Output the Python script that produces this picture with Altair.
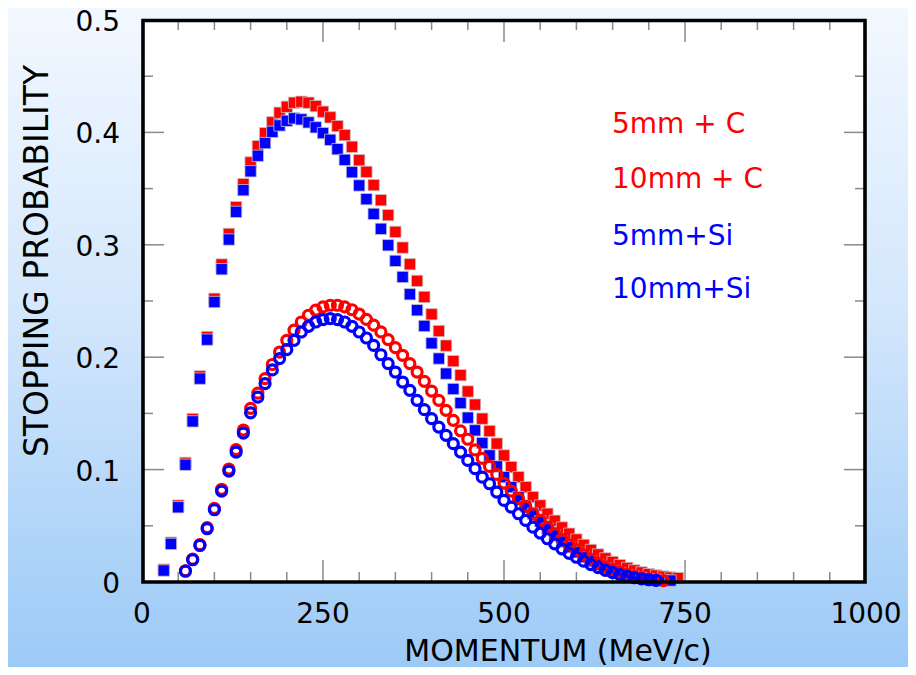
import altair as alt
import pandas as pd

# ---------------- data ----------------
momentum_sq = [30, 40, 50, 60, 70, 80, 90, 100, 110, 120, 130, 140, 150, 160, 170, 180, 190, 200,
               210, 220, 230, 240, 250, 260, 270, 280, 290, 300, 310, 320, 330, 340, 350, 360, 370,
               380, 390, 400, 410, 420, 430, 440, 450, 460, 470, 480, 490, 500, 510, 520, 530, 540,
               550, 560, 570, 580, 590, 600, 610, 620, 630, 640, 650, 660, 670, 680, 690, 700, 710,
               720, 730, 740]
# red filled squares
prob_10mm_C = [0.011, 0.035, 0.068, 0.106, 0.145, 0.183, 0.218, 0.252, 0.2825, 0.3097, 0.3335, 0.354,
               0.3733, 0.3878, 0.3993, 0.409, 0.4175, 0.4228, 0.4264, 0.4273, 0.4264, 0.4234, 0.4184,
               0.4134, 0.4056, 0.3976, 0.3872, 0.3753, 0.3649, 0.3531, 0.3397, 0.3264, 0.3115, 0.2975,
               0.2827, 0.2679, 0.2536, 0.2382, 0.2233, 0.2103, 0.1965, 0.184, 0.1695, 0.1578, 0.1453,
               0.1343, 0.1231, 0.1126, 0.1022, 0.0933, 0.0844, 0.0755, 0.0681, 0.0607, 0.0545, 0.0485,
               0.043, 0.0378, 0.033, 0.0285, 0.0245, 0.021, 0.0178, 0.015, 0.0125, 0.0103, 0.0085,
               0.007, 0.0058, 0.0048, 0.004, 0.0035]
# blue filled squares
prob_10mm_Si = [0.0102, 0.0339, 0.0665, 0.1043, 0.1429, 0.1809, 0.2156, 0.2491, 0.2783, 0.3047, 0.3293,
                0.3486, 0.3654, 0.3792, 0.3905, 0.4005, 0.4062, 0.4103, 0.4125, 0.4116, 0.4089, 0.4045,
                0.3994, 0.3934, 0.3851, 0.3756, 0.3646, 0.3528, 0.3406, 0.3275, 0.3142, 0.2996, 0.2857,
                0.2714, 0.256, 0.2418, 0.2278, 0.2124, 0.1988, 0.1854, 0.1717, 0.1592, 0.1462, 0.1349,
                0.1236, 0.1126, 0.1028, 0.0933, 0.0844, 0.0755, 0.0672, 0.0607, 0.054, 0.0475, 0.0415,
                0.036, 0.031, 0.0265, 0.0222, 0.0185, 0.0152, 0.0123, 0.0098, 0.0077, 0.006, 0.0046,
                0.0035, 0.0026, 0.002, 0.0016, 0.0013]

momentum_ci = [60, 70, 80, 90, 100, 110, 120, 130, 140, 150, 160, 170, 180, 190, 200, 210, 220, 230,
               240, 250, 260, 270, 280, 290, 300, 310, 320, 330, 340, 350, 360, 370, 380, 390, 400,
               410, 420, 430, 440, 450, 460, 470, 480, 490, 500, 510, 520, 530, 540, 550, 560, 570,
               580, 590, 600, 610, 620, 630, 640, 650, 660, 670, 680, 690, 700, 710, 720]
# red open circles
prob_5mm_C = [0.0100, 0.0203, 0.0332, 0.0484, 0.0655, 0.0825, 0.1005, 0.1178, 0.1352, 0.1545, 0.168,
              0.181, 0.1935, 0.2046, 0.215, 0.224, 0.2313, 0.2373, 0.2418, 0.2447, 0.2462, 0.2462,
              0.2447, 0.2422, 0.2384, 0.2336, 0.2285, 0.2225, 0.2157, 0.2085, 0.2017, 0.1943, 0.1868,
              0.1785, 0.1699, 0.1616, 0.1527, 0.1438, 0.1345, 0.127, 0.1175, 0.11, 0.1028, 0.0957,
              0.088, 0.0809, 0.0741, 0.0672, 0.0607, 0.0548, 0.0488, 0.043, 0.038, 0.033, 0.0285,
              0.024, 0.02, 0.0166, 0.0135, 0.011, 0.0087, 0.0067, 0.005, 0.0037, 0.0027, 0.0019, 0.0013]
# blue open circles
prob_5mm_Si = [0.0096, 0.0198, 0.0325, 0.0474, 0.0643, 0.0809, 0.0987, 0.1156, 0.1325, 0.1505, 0.1645,
               0.1765, 0.1887, 0.1988, 0.2068, 0.215, 0.2224, 0.2275, 0.2313, 0.2335, 0.2344, 0.2335,
               0.2313, 0.2275, 0.2224, 0.2171, 0.2105, 0.2022, 0.1943, 0.1868, 0.1779, 0.1705, 0.1616,
               0.1533, 0.1453, 0.1378, 0.1305, 0.1231, 0.1156, 0.1082, 0.1008, 0.0933, 0.0874, 0.08,
               0.0726, 0.0666, 0.0607, 0.0548, 0.0488, 0.0435, 0.0385, 0.034, 0.0295, 0.0255, 0.022,
               0.0185, 0.0155, 0.0128, 0.0104, 0.0083, 0.0065, 0.005, 0.0038, 0.0028, 0.002, 0.0014]

x_tick_labels = [0, 250, 500, 750, 1000]
y_tick_labels = [0, 0.1, 0.2, 0.3, 0.4, 0.5]
x_major = [250, 500, 750]
x_minor = [50, 100, 150, 200, 300, 350, 400, 450, 550, 600, 650, 700, 800, 850, 900, 950]
y_major = [0.1, 0.2, 0.3, 0.4]
y_minor = [0.05, 0.15, 0.25, 0.35, 0.45]
legend_labels = ["5mm + C", "10mm + C", "5mm+Si", "10mm+Si"]
legend_colors = ["#ff0000", "#ff0000", "#0000ff", "#0000ff"]

# ---------------- layout ----------------
W, H = 724, 562
PAD = {"left": 134, "top": 12, "right": 42, "bottom": 85}
FONT = "DejaVu Sans"
RED, BLUE = "#ff0000", "#0000ff"
TICK_COLOR = "#8a8a8a"

xs = alt.Scale(domain=[0, 1000], nice=False, zero=False)
ys = alt.Scale(domain=[0, 0.5], nice=False, zero=False)
one = pd.DataFrame({"a": [0]})

background = alt.Chart(one).mark_rect(
    fill=alt.Gradient(
        gradient="linear",
        stops=[alt.GradientStop(color="#f2f8ff", offset=0),
               alt.GradientStop(color="#d4e7fc", offset=0.45),
               alt.GradientStop(color="#9ccaf7", offset=1)],
        x1=0, x2=0, y1=0, y2=1),
).encode(x=alt.value(-PAD["left"]), x2=alt.value(W + PAD["right"]),
         y=alt.value(-PAD["top"]), y2=alt.value(H + PAD["bottom"]))

plot_bg = alt.Chart(one).mark_rect(fill="white").encode(
    x=alt.value(0), x2=alt.value(W), y=alt.value(0), y2=alt.value(H))


def xticks(vals, length, top):
    df = pd.DataFrame({"v": vals})
    y0, y1 = (0, length) if top else (H, H - length)
    return alt.Chart(df).mark_rule(color=TICK_COLOR, strokeWidth=1.5).encode(
        x=alt.X("v:Q", scale=xs, axis=None), y=alt.value(y0), y2=alt.value(y1))


def yticks(vals, length, right):
    df = pd.DataFrame({"v": vals})
    x0, x1 = (W, W - length) if right else (0, length)
    return alt.Chart(df).mark_rule(color=TICK_COLOR, strokeWidth=1.5).encode(
        y=alt.Y("v:Q", scale=ys, axis=None), x=alt.value(x0), x2=alt.value(x1))


ticks = [xticks(x_major, 22, False), xticks(x_minor, 10, False),
         xticks(x_major, 22, True), xticks(x_minor, 10, True),
         yticks(y_major, 22, False), yticks(y_minor, 11, False),
         yticks(y_major, 22, True), yticks(y_minor, 11, True)]


def series(mom, prob, color, filled):
    df = pd.DataFrame({"momentum": mom, "prob": prob})
    if filled:
        mk = alt.Chart(df).mark_point(shape="square", filled=True, size=128, fill=color,
                                      stroke="#c4c4c4", strokeWidth=0.8, opacity=1)
    else:
        mk = alt.Chart(df).mark_point(shape="circle", filled=False, size=100, color=color,
                                      strokeWidth=3.2, opacity=1)
    return mk.encode(x=alt.X("momentum:Q", scale=xs, axis=None),
                     y=alt.Y("prob:Q", scale=ys, axis=None))


points = [series(momentum_sq[:len(prob_10mm_C)], prob_10mm_C, RED, True),
          series(momentum_sq[:len(prob_10mm_Si)], prob_10mm_Si, BLUE, True),
          series(momentum_ci[:len(prob_5mm_C)], prob_5mm_C, RED, False),
          series(momentum_ci[:len(prob_5mm_Si)], prob_5mm_Si, BLUE, False)]

frame = alt.Chart(one).mark_rect(fillOpacity=0, stroke="black", strokeWidth=3.6).encode(
    x=alt.value(1), x2=alt.value(W - 1), y=alt.value(0.5), y2=alt.value(H))

xlab_df = pd.DataFrame({"v": x_tick_labels, "t": [str(v) for v in x_tick_labels]})
xlabels = alt.Chart(xlab_df).mark_text(font=FONT, fontSize=28, align="center",
                                       baseline="alphabetic", color="black").encode(
    x=alt.X("v:Q", scale=xs, axis=None), y=alt.value(H + 41), text="t:N")

ylab_df = pd.DataFrame({"v": y_tick_labels, "t": [("%g" % v) for v in y_tick_labels]})
ylabels = alt.Chart(ylab_df).mark_text(font=FONT, fontSize=28, align="right",
                                       baseline="alphabetic", dy=11, color="black").encode(
    y=alt.Y("v:Q", scale=ys, axis=None), x=alt.value(-22), text="t:N")

xtitle = alt.Chart(one).mark_text(text="MOMENTUM (MeV/c)", font=FONT, fontSize=30,
                                  align="center", baseline="alphabetic", color="black").encode(
    x=alt.value(558 - 142), y=alt.value(641))

ytitle = alt.Chart(one).mark_text(text="STOPPING PROBABILITY", font=FONT, fontSize=33, angle=270,
                                  align="center", baseline="alphabetic", color="black").encode(
    x=alt.value(-94), y=alt.value(241))

legend_y = [113, 168, 225, 278]
legend = [alt.Chart(one).mark_text(text=lab, font=FONT, fontSize=28, align="left",
                                   baseline="alphabetic", color=col).encode(
    x=alt.value(470), y=alt.value(yy))
    for lab, col, yy in zip(legend_labels, legend_colors, legend_y)]

chart = alt.layer(
    background, plot_bg, *ticks, *points, frame, xlabels, ylabels, xtitle, ytitle, *legend
).properties(
    width=W, height=H, padding=PAD, autosize=alt.AutoSizeParams(type="none")
).configure_view(strokeWidth=0)

chart.save("out.html", embed_options={"renderer": "svg", "actions": False})
